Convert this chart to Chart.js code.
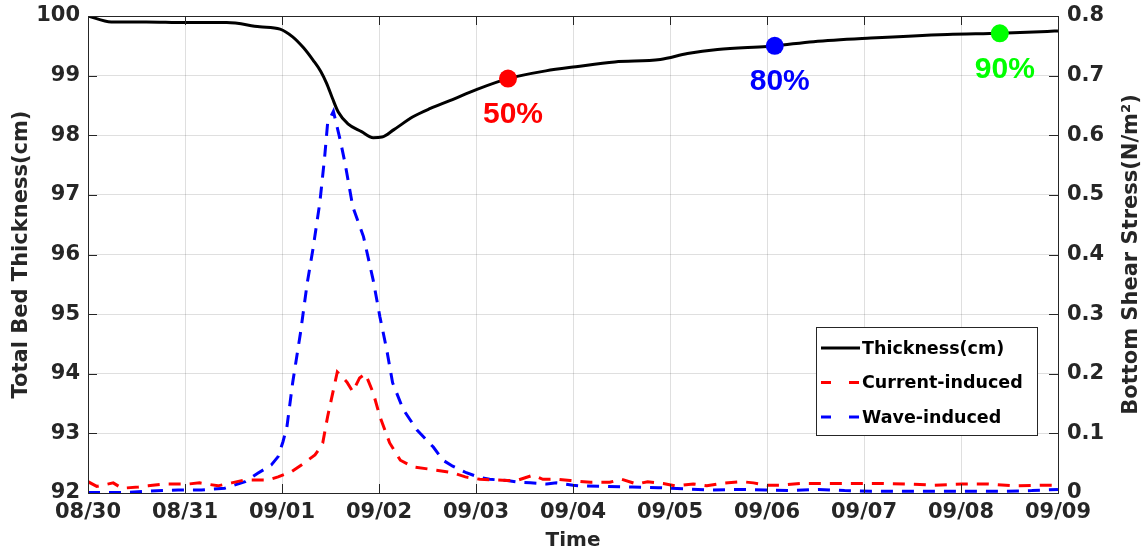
<!DOCTYPE html>
<html>
<head>
<meta charset="utf-8">
<script src="https://cdn.jsdelivr.net/npm/chart.js@4.4.1/dist/chart.umd.min.js"></script>
<style>
  html, body { margin: 0; padding: 0; background: #fff; }
  #wrap { width: 1143px; height: 557px; }
</style>
</head>
<body>
<div id="wrap"><canvas id="chart" width="1143" height="557"></canvas></div>
<script>
// x axis: days since 08/30 00:00
const dateLabels = ['08/30', '08/31', '09/01', '09/02', '09/03', '09/04', '09/05', '09/06', '09/07', '09/08', '09/09'];
const thicknessTicks = [92, 93, 94, 95, 96, 97, 98, 99, 100];
const stressTickLabels = ['0', '0.1', '0.2', '0.3', '0.4', '0.5', '0.6', '0.7', '0.8'];

// total bed thickness (cm)
const thicknessDays = [0, 0.24, 0.6, 1.0, 1.43, 1.77, 1.98, 2.11, 2.22, 2.32, 2.4, 2.46, 2.52, 2.58, 2.68, 2.82, 2.94,
  3.03, 3.15, 3.35, 3.53, 3.73, 4.01, 4.33, 4.72, 5.03, 5.43, 5.9, 6.18, 6.49, 7.0, 7.08, 7.48, 8.07, 8.86, 9.4, 9.89, 10];
const thicknessValues = [100, 99.9, 99.9, 99.89, 99.89, 99.82, 99.78, 99.65, 99.47, 99.26, 99.07, 98.87, 98.62, 98.39, 98.19, 98.06, 97.96,
  97.97, 98.09, 98.31, 98.45, 98.58, 98.77, 98.95, 99.08, 99.15, 99.23, 99.27, 99.37, 99.44, 99.49, 99.5, 99.57, 99.63, 99.69, 99.71, 99.74, 99.75];

// current-induced bottom shear stress (N/m2)
const currentDays = [0, 0.09, 0.26, 0.35, 0.52, 0.62, 0.79, 1.03, 1.15, 1.34, 1.48, 1.62, 1.86, 1.96, 2.1, 2.2, 2.34, 2.39, 2.42, 2.47,
  2.57, 2.67, 2.73, 2.8, 2.86, 2.94, 3.01, 3.11, 3.22, 3.35, 3.56, 3.76, 3.89, 4.04, 4.32, 4.42, 4.59, 4.69, 4.85, 4.97,
  5.18, 5.38, 5.5, 5.66, 5.77, 5.93, 6.05, 6.24, 6.38, 6.52, 6.74, 6.86, 7.0, 7.13, 7.34, 7.63, 7.91, 8.18, 8.45, 8.73,
  9.01, 9.28, 9.56, 9.83, 10];
const currentValues = [0.019, 0.011, 0.017, 0.008, 0.01, 0.012, 0.015, 0.015, 0.017, 0.012, 0.017, 0.022, 0.022, 0.027, 0.036, 0.047, 0.064, 0.075, 0.084, 0.128,
  0.203, 0.186, 0.17, 0.193, 0.2, 0.168, 0.128, 0.084, 0.055, 0.044, 0.039, 0.034, 0.027, 0.023, 0.021, 0.021, 0.03, 0.023, 0.023, 0.021,
  0.018, 0.018, 0.023, 0.015, 0.019, 0.016, 0.012, 0.015, 0.012, 0.016, 0.019, 0.017, 0.013, 0.013, 0.016, 0.016, 0.016, 0.016, 0.015, 0.013,
  0.015, 0.015, 0.012, 0.013, 0.013];

// wave-induced bottom shear stress (N/m2)
const waveDays = [0, 0.38, 0.62, 0.93, 1.17, 1.41, 1.62, 1.75, 1.89, 1.96, 2.01, 2.05, 2.11, 2.19, 2.26, 2.32, 2.39, 2.44, 2.47, 2.53,
  2.6, 2.65, 2.73, 2.84, 2.94, 3.01, 3.08, 3.14, 3.25, 3.39, 3.56, 3.66, 3.76, 3.9, 4.02, 4.14, 4.32, 4.45, 4.56, 4.73,
  4.83, 5.0, 5.07, 5.33, 5.61, 5.88, 6.15, 6.43, 6.7, 6.98, 7.25, 7.53, 7.8, 8.08, 8.35, 8.63, 8.9, 9.18, 9.45, 9.73, 10];
const waveValues = [0.001, 0.001, 0.003, 0.005, 0.005, 0.008, 0.019, 0.033, 0.047, 0.061, 0.086, 0.11, 0.185, 0.268, 0.352, 0.41, 0.487, 0.564, 0.62, 0.64,
  0.592, 0.553, 0.48, 0.43, 0.357, 0.295, 0.24, 0.185, 0.14, 0.106, 0.077, 0.055, 0.045, 0.034, 0.027, 0.023, 0.021, 0.018, 0.017, 0.015,
  0.017, 0.013, 0.012, 0.011, 0.01, 0.009, 0.007, 0.005, 0.006, 0.005, 0.004, 0.006, 0.004, 0.003, 0.003, 0.003, 0.003, 0.003, 0.003, 0.004, 0.006];

// consolidation markers on the thickness curve
const markerDays = [4.33, 7.08, 9.4];
const markerValues = [98.95, 99.5, 99.71];
const markerLabels = ['50%', '80%', '90%'];
const markerColors = ['#ff0000', '#0000ff', '#00ff00'];

const axisColor = '#262626';
const tickFont = { family: 'DejaVu Sans', size: 21, weight: 'bold' };

function toPoints(xs, ys) {
  return xs.map(function (x, i) { return { x: x, y: ys[i] }; });
}

const datasets = [
  { label: 'Thickness(cm)', data: toPoints(thicknessDays, thicknessValues), yAxisID: 'y',
    borderColor: '#000000', borderWidth: 3, pointRadius: 0, cubicInterpolationMode: 'monotone', order: 1 },
  { label: 'Current-induced', data: toPoints(currentDays, currentValues), yAxisID: 'y1',
    borderColor: '#ff0000', borderWidth: 3, borderDash: [12, 9], pointRadius: 0, order: 2 },
  { label: 'Wave-induced', data: toPoints(waveDays, waveValues), yAxisID: 'y1',
    borderColor: '#0000ff', borderWidth: 3, borderDash: [12, 9], pointRadius: 0, order: 3 }
];
markerDays.forEach(function (d, i) {
  datasets.push({ label: markerLabels[i], data: [{ x: d, y: markerValues[i] }], yAxisID: 'y',
    showLine: false, pointRadius: 9, pointBackgroundColor: markerColors[i], pointBorderColor: markerColors[i],
    pointBorderWidth: 0, order: 0, isMarker: true });
});

// box, inward ticks, titles, legend, marker labels
const framePlugin = {
  id: 'frame',
  afterDraw: function (chart) {
    const ctx = chart.ctx;
    const a = chart.chartArea;
    const sx = chart.scales.x, sy = chart.scales.y, sy1 = chart.scales.y1;
    ctx.save();
    ctx.strokeStyle = axisColor;
    ctx.lineWidth = 1;
    ctx.strokeRect(Math.round(a.left) + 0.5, Math.round(a.top) + 0.5, Math.round(a.right - a.left), Math.round(a.bottom - a.top));
    ctx.beginPath();
    sx.ticks.forEach(function (t) {
      const px = Math.round(sx.getPixelForValue(t.value)) + 0.5;
      ctx.moveTo(px, a.bottom); ctx.lineTo(px, a.bottom - 9);
      ctx.moveTo(px, a.top); ctx.lineTo(px, a.top + 9);
    });
    sy.ticks.forEach(function (t) {
      const py = Math.round(sy.getPixelForValue(t.value)) + 0.5;
      ctx.moveTo(a.left, py); ctx.lineTo(a.left + 9, py);
    });
    sy1.ticks.forEach(function (t) {
      const py = Math.round(sy1.getPixelForValue(t.value)) + 0.5;
      ctx.moveTo(a.right, py); ctx.lineTo(a.right - 9, py);
    });
    ctx.stroke();

    // axis titles
    ctx.fillStyle = axisColor;
    ctx.font = 'bold 21px "DejaVu Sans"';
    ctx.textAlign = 'center';
    ctx.textBaseline = 'middle';
    const midY = (a.top + a.bottom) / 2;
    ctx.save();
    ctx.translate(22, midY);
    ctx.rotate(-Math.PI / 2);
    ctx.fillText('Total Bed Thickness(cm)', 0, 0);
    ctx.restore();
    ctx.save();
    ctx.translate(1132, midY);
    ctx.rotate(-Math.PI / 2);
    ctx.fillText('Bottom Shear Stress(N/m\u00B2)', 0, 0);
    ctx.restore();
    ctx.font = 'bold 20px "DejaVu Sans"';
    ctx.fillText('Time', (a.left + a.right) / 2, 541);

    // marker labels
    ctx.font = 'bold 30px "Liberation Sans"';
    chart.data.datasets.forEach(function (ds, i) {
      if (!ds.isMarker) return;
      const p = chart.getDatasetMeta(i).data[0];
      ctx.fillStyle = ds.pointBackgroundColor;
      ctx.fillText(ds.label, p.x + 5, p.y + 36);
    });

    // legend
    const lw = 221, lh = 108;
    const lx = a.right - 21 - lw, ly = a.bottom - 58 - lh;
    ctx.fillStyle = '#ffffff';
    ctx.fillRect(lx, ly, lw, lh);
    ctx.strokeStyle = axisColor;
    ctx.lineWidth = 1;
    ctx.strokeRect(Math.round(lx) + 0.5, Math.round(ly) + 0.5, lw, lh);
    ctx.font = 'bold 17.5px "DejaVu Sans"';
    ctx.textAlign = 'left';
    chart.data.datasets.slice(0, 3).forEach(function (ds, i) {
      const yy = ly + 21 + i * 34.5;
      ctx.beginPath();
      ctx.strokeStyle = ds.borderColor;
      ctx.lineWidth = 3;
      ctx.setLineDash(ds.borderDash ? [10, 18] : []);
      ctx.moveTo(lx + 5, yy);
      ctx.lineTo(lx + 44, yy);
      ctx.stroke();
      ctx.setLineDash([]);
      ctx.fillStyle = '#000000';
      ctx.fillText(ds.label, lx + 46, yy + 1);
    });
    ctx.restore();
  }
};

function fitY(width) {
  return function (s) { s.width = width; s.paddingTop = 0; s.paddingBottom = 0; };
}

new Chart(document.getElementById('chart'), {
  type: 'line',
  data: { datasets: datasets },
  options: {
    responsive: false,
    animation: false,
    layout: { padding: { top: 16, left: 0, right: 0, bottom: 0 } },
    plugins: { legend: { display: false }, tooltip: { enabled: false } },
    scales: {
      x: {
        type: 'linear', min: 0, max: 10,
        afterFit: function (s) { s.height = 64; s.paddingLeft = 0; s.paddingRight = 0; },
        ticks: { stepSize: 1, color: axisColor, font: tickFont, padding: 7, maxRotation: 0,
          callback: function (v) { return dateLabels[v]; } },
        grid: { color: 'rgba(38,38,38,0.15)', drawTicks: false },
        border: { display: false }
      },
      y: {
        position: 'left', min: 92, max: 100,
        afterFit: fitY(88),
        afterBuildTicks: function (s) { s.ticks = thicknessTicks.map(function (v) { return { value: v }; }); },
        ticks: { color: axisColor, font: tickFont, padding: 8 },
        grid: { color: 'rgba(38,38,38,0.15)', drawTicks: false },
        border: { display: false }
      },
      y1: {
        position: 'right', min: 0, max: 0.8,
        afterFit: fitY(85),
        ticks: { stepSize: 0.1, color: axisColor, font: tickFont, padding: 9,
          callback: function (v, i) { return stressTickLabels[i]; } },
        grid: { drawOnChartArea: false, drawTicks: false },
        border: { display: false }
      }
    }
  },
  plugins: [framePlugin]
});
</script>
</body>
</html>
